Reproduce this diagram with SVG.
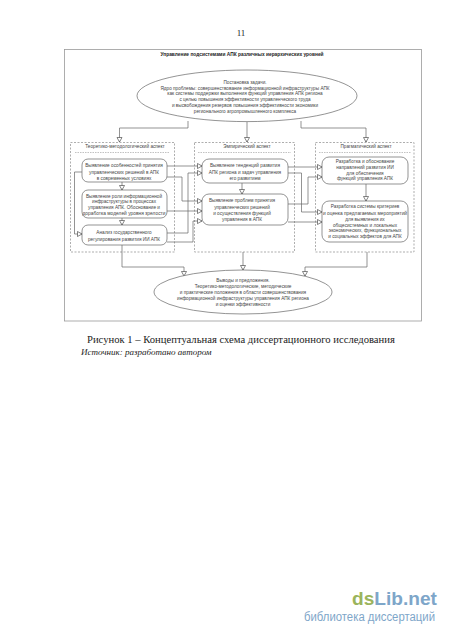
<svg xmlns="http://www.w3.org/2000/svg" width="450" height="637" viewBox="0 0 450 637">
<defs>
<marker id="a" markerWidth="7" markerHeight="7" refX="5" refY="3" orient="auto" markerUnits="userSpaceOnUse"><path d="M0.5,0.5L5,3L0.5,5.500Z" fill="#fff" stroke="#333" stroke-width="0.6"/></marker>
</defs>
<style>
text{font-family:"Liberation Sans",Arial,sans-serif;font-size:4.7px;fill:#444;text-anchor:middle}
.n{fill:#fff;stroke:#666;stroke-width:.7}
.d{fill:#fff;stroke:#777;stroke-width:.6;stroke-dasharray:2 1.5}
.c path{fill:none;stroke:#666;stroke-width:.7;marker-end:url(#a)}
.s{font-family:"Liberation Serif","Times New Roman",serif;text-anchor:start;fill:#222}
</style>
<rect width="450" height="637" fill="#fff"/>
<text class="s" x="241" y="36" style="font-size:9px;text-anchor:middle">11</text>
<g id="frame"><rect x="64.500" y="49.500" width="357" height="271.500" fill="#fff" stroke="#999" stroke-width=".8"/>
<text x="242" y="55.600" style="font-weight:bold;font-size:4.850px;fill:#222">Управление подсистемами АПК различных иерархических уровней</text></g>
<g id="aspect1"><rect class="d" x="70.500" y="142.500" width="104" height="109.500"/><text x="125" y="148.300">Теоретико-методологический аспект</text><path d="M75 152.500H170" stroke="#999" stroke-width=".6" stroke-dasharray="1.500 1"/></g>
<g id="aspect2"><rect class="d" x="194.500" y="142.500" width="100" height="109.500"/><text x="247" y="148.300">Эмпирический аспект</text><path d="M198 152.500H291" stroke="#999" stroke-width=".6" stroke-dasharray="1.500 1"/></g>
<g id="aspect3"><rect class="d" x="315.500" y="142.500" width="98.500" height="109.500"/><text x="366" y="148.300">Прагматический аспект</text><path d="M319 152.500H411" stroke="#999" stroke-width=".6" stroke-dasharray="1.500 1"/></g>
<g id="connectors" class="c">
<path d="M188 121V128H119.500V142"/>
<path d="M247 122V142"/>
<path d="M301 121V128H366V142"/>
<path d="M122 182V190"/>
<path d="M122 218V225"/>
<path d="M82 172H74.500V234H82"/>
<path d="M167 166H202"/>
<path d="M167 177H182V201H202"/>
<path d="M167 211H202"/>
<path d="M167 233H188V173H202"/>
<path d="M167 242H193V221H202"/>
<path d="M242 183V194"/>
<path d="M288 167H322"/>
<path d="M288 204H308V177H322"/>
<path d="M288 173H301.500V212H322"/>
<path d="M288 222H322"/>
<path d="M366 184V201"/>
<path d="M122 245V267H184V276"/>
<path d="M243 252V270"/>
<path d="M367 252V267H305V276"/>
</g>
<g id="top"><ellipse class="n" cx="247" cy="95.800" rx="110" ry="25.800"/>
<text x="245" y="83.500">Постановка задачи.</text><text x="245" y="89.500">Ядро проблемы: совершенствование информационной инфраструктуры АПК</text><text x="245" y="95">как системы поддержки выполнения функций управления АПК региона</text><text x="245" y="100.700">с целью повышения эффективности управленческого труда</text><text x="245" y="106.700">и высвобождения резервов повышения эффективности экономики</text><text x="245" y="112.500">регионального агропромышленного комплекса</text></g>
<g id="n11"><rect class="n" x="82" y="159" width="85" height="23" rx="6"/><text x="124" y="167.400">Выявление особенностей принятия</text><text x="124" y="174">управленческих решений в АПК</text><text x="124" y="180">в современных условиях</text></g>
<g id="n12"><rect class="n" x="82" y="190" width="85" height="28" rx="6"/><text x="124" y="197.700">Выявление роли информационной</text><text x="124" y="203.300">инфраструктуры в процессах</text><text x="124" y="209">управления АПК. Обоснование и</text><text x="124" y="215" textLength="83" lengthAdjust="spacingAndGlyphs">доработка моделей уровня зрелости</text></g>
<g id="n13"><rect class="n" x="82" y="225" width="85" height="20" rx="6"/><text x="124" y="234.400">Анализ государственного</text><text x="124" y="240.700">регулирования развития ИИ АПК</text></g>
<g id="n21"><rect class="n" x="202" y="159" width="86" height="24" rx="7"/><text x="245" y="167.400">Выявление тенденций развития</text><text x="245" y="174">АПК региона и задач управления</text><text x="245" y="180">его развитием</text></g>
<g id="n22"><rect class="n" x="202" y="194" width="86" height="31" rx="7"/><text x="242" y="202.400">Выявление проблем принятия</text><text x="242" y="209">управленческих решений</text><text x="242" y="215">и осуществления функций</text><text x="242" y="220.700">управления в АПК</text></g>
<g id="n31"><rect class="n" x="322" y="157" width="86" height="27" rx="7"/><text x="365" y="162.700">Разработка и обоснование</text><text x="365" y="169.400">направлений развития ИИ</text><text x="365" y="175">для обеспечения</text><text x="365" y="180">функций управления АПК</text></g>
<g id="n32"><rect class="n" x="322" y="201" width="86" height="41" rx="7"/><text x="365" y="208.400">Разработка системы критериев</text><text x="365" y="215" textLength="84" lengthAdjust="spacingAndGlyphs">и оценка предлагаемых мероприятий</text><text x="365" y="220.700">для выявления их</text><text x="365" y="226.700">общесистемных и локальных</text><text x="365" y="232.400">экономических, функциональных</text><text x="365" y="237.700">и социальных эффектов для АПК</text></g>
<g id="bottom"><ellipse class="n" cx="243" cy="292" rx="89" ry="22"/>
<text x="243" y="282.300">Выводы и предложения.</text><text x="243" y="288">Теоретико-методологические, методические</text><text x="243" y="294.300">и практические положения в области совершенствования</text><text x="243" y="300">информационной инфраструктуры управления АПК региона</text><text x="243" y="305.600">и оценки эффективности</text></g>
<text class="s" x="87" y="343" style="font-size:10.640px">Рисунок 1 – Концептуальная схема диссертационного исследования</text>
<text class="s" x="81" y="355" style="font-size:9px;font-style:italic">Источник: разработано автором</text>
<g id="watermark"><text x="352" y="605" style="font-size:19.100px;font-weight:bold;text-anchor:start;fill:#9bb45c">ds<tspan fill="#7ea6c9">Lib.net</tspan></text><text x="304" y="621" textLength="131" lengthAdjust="spacingAndGlyphs" style="font-size:12px;text-anchor:start;fill:#7ea6c9">библиотека диссертаций</text></g>
</svg>
